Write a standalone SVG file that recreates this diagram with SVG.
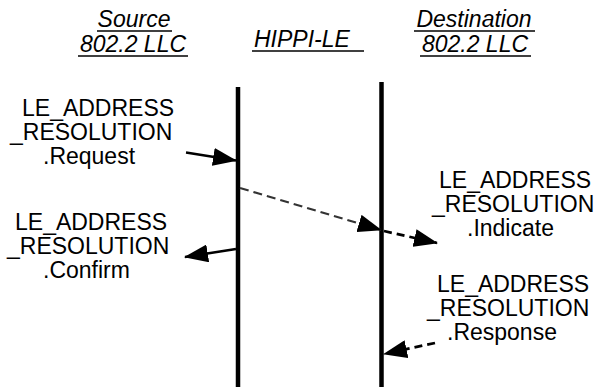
<svg xmlns="http://www.w3.org/2000/svg" width="598" height="387" viewBox="0 0 598 387">
<style>
.h{font-family:"Liberation Sans",Arial,sans-serif;font-size:23px;font-style:italic;fill:#000}
.t{font-family:"Liberation Sans",Arial,sans-serif;font-size:23px;fill:#000}
.ul{stroke:#000;stroke-width:1.5}
.life{stroke:#000;stroke-width:4.5}
.solid{stroke:#000;stroke-width:2.5;fill:none}
.gdash{stroke:#333;stroke-width:2.2;fill:none;stroke-dasharray:9 5}
.bdash{stroke:#000;stroke-width:2.8;fill:none;stroke-dasharray:8 5}
</style>
<defs>
<marker id="ah" viewBox="0 0 24 18" refX="23" refY="9" markerWidth="24" markerHeight="18" markerUnits="userSpaceOnUse" orient="auto">
<path d="M0,0 L24,9 L0,18 Z" fill="#000"/>
</marker>
</defs>
<rect width="598" height="387" fill="#fff"/>
<g id="header-source">
<text class="h" x="134" y="27" text-anchor="middle">Source</text>
<line class="ul" x1="97" y1="31" x2="172" y2="31"/>
<text class="h" x="133" y="52" text-anchor="middle">802.2 LLC</text>
<line class="ul" x1="78" y1="56" x2="188" y2="56"/>
</g>
<g id="header-hippi">
<text class="h" x="254" y="47">HIPPI-LE</text>
<line class="ul" x1="252" y1="51" x2="364" y2="51"/>
</g>
<g id="header-destination">
<text class="h" x="474" y="27" text-anchor="middle">Destination</text>
<line class="ul" x1="414" y1="31" x2="535" y2="31"/>
<text class="h" x="475" y="52" text-anchor="middle">802.2 LLC</text>
<line class="ul" x1="420" y1="56" x2="531" y2="56"/>
</g>
<g id="lifeline-left"><line class="life" x1="238" y1="87" x2="238" y2="387"/></g>
<g id="lifeline-right"><line class="life" x1="381.5" y1="82" x2="381.5" y2="387"/></g>
<g id="label-request">
<text class="t" x="22" y="116">LE_ADDRESS</text>
<text class="t" x="10" y="140">_RESOLUTION</text>
<text class="t" x="43" y="164">.Request</text>
</g>
<g id="label-confirm">
<text class="t" x="15" y="230">LE_ADDRESS</text>
<text class="t" x="7" y="254">_RESOLUTION</text>
<text class="t" x="43" y="278">.Confirm</text>
</g>
<g id="label-indicate">
<text class="t" x="439" y="188">LE_ADDRESS</text>
<text class="t" x="432" y="212">_RESOLUTION</text>
<text class="t" x="467" y="236">.Indicate</text>
</g>
<g id="label-response">
<text class="t" x="437" y="292">LE_ADDRESS</text>
<text class="t" x="427" y="316">_RESOLUTION</text>
<text class="t" x="447" y="340">.Response</text>
</g>
<g id="connectors">
<line class="solid" x1="186" y1="152.5" x2="236" y2="160.5" marker-end="url(#ah)"/>
<line class="solid" x1="236" y1="249" x2="185" y2="257" marker-end="url(#ah)"/>
<line class="gdash" x1="240" y1="188" x2="381" y2="230" marker-end="url(#ah)"/>
<line class="bdash" x1="384" y1="231" x2="437" y2="243" marker-end="url(#ah)"/>
<line class="bdash" x1="435" y1="343" x2="384" y2="354" marker-end="url(#ah)"/>
</g>
</svg>
